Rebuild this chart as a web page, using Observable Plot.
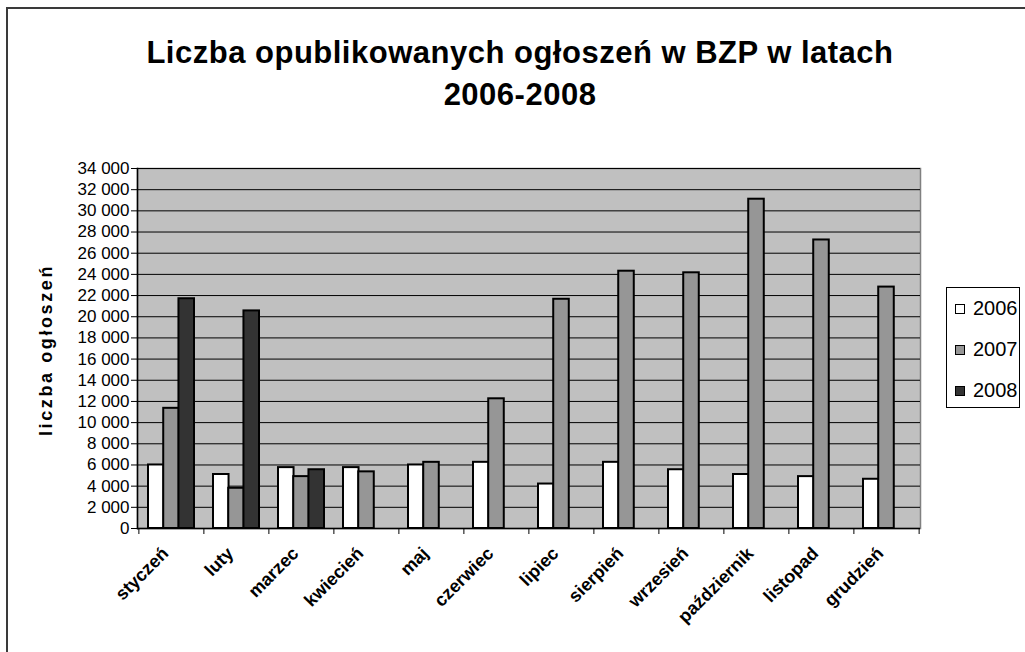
<!DOCTYPE html>
<html><head><meta charset="utf-8">
<script src="https://cdn.jsdelivr.net/npm/d3@7"></script>
<script src="https://cdn.jsdelivr.net/npm/@observablehq/plot@0.6"></script>
<style>
body{margin:0;background:#fff;}
#wrap{position:relative;width:1025px;height:652px;overflow:hidden;font-family:"Liberation Sans",Arial,sans-serif;color:#000;}
#wrap svg{position:absolute;left:0;top:0;}
#wrap svg g[aria-label="y-axis tick label"]{font-size:17px;}
#wrap svg g[aria-label="x-axis tick label"]{font-size:18px;font-weight:bold;}
#border{position:absolute;left:6px;top:7px;width:1040px;height:670px;border:2px solid #3a3a3a;box-sizing:border-box;}
#title{position:absolute;left:0;width:1040px;top:32px;text-align:center;font-weight:bold;font-size:31px;letter-spacing:0.5px;line-height:42px;}
#ylabel{position:absolute;left:-104px;top:338px;width:300px;height:24px;line-height:24px;text-align:center;font-weight:bold;font-size:18px;letter-spacing:2.6px;transform:rotate(-90deg);}
#legend{position:absolute;left:946px;top:287px;width:74px;height:121px;border:1px solid #000;box-sizing:border-box;background:#fff;}
.li{position:absolute;left:8px;height:24px;line-height:24px;font-size:20px;}
.sw{display:inline-block;width:8px;height:8px;border:1px solid #000;margin-right:8px;vertical-align:1px;}
</style></head>
<body><div id="wrap"><div id="border"></div><div id="title">Liczba opublikowanych ogłoszeń w BZP w latach<br>2006-2008</div><div id="ylabel">liczba ogłoszeń</div><div id="legend"></div></div>
<script>
const months = ["styczeń","luty","marzec","kwiecień","maj","czerwiec","lipiec","sierpień","wrzesień","październik","listopad","grudzień"];
const years = ["2006","2007","2008"];
const v2006 = [6000,5100,5750,5750,6000,6250,4200,6250,5550,5100,4900,4650];
const v2007 = [11350,3800,4900,5350,6250,12250,21650,24300,24150,31100,27250,22800];
const v2008 = [21700,20550,5550,null,null,null,null,null,null,null,null,null];
const colors = ["#ffffff","#969696","#333333"];
const yTicks = [0,2000,4000,6000,8000,10000,12000,14000,16000,18000,20000,22000,24000,26000,28000,30000,32000,34000];
const title = "Liczba opublikowanych ogłoszeń w BZP w latach 2006-2008";

const series = [v2006, v2007, v2008];
const data = [];
series.forEach((vals, i) => vals.forEach((v, j) => { if (v != null) data.push({month: months[j], year: years[i], value: v}); }));

const W = 1025, H = 652, mL = 137, mR = 105, mT = 168, mB = 124;
const step = (W - mL - mR) / months.length;
const bw = step * 0.7;
const slot = bw / years.length;
const fmt = d => d3.format(",")(d).replace(/,/g, "\u00a0");

const barMarks = years.map((yr, i) => Plot.barY(data.filter(d => d.year === yr), {
  x: "month", y: "value", fill: colors[i], stroke: "#000", strokeWidth: 2,
  insetLeft: slot * i, insetRight: slot * (years.length - 1 - i)
}));

const chart = Plot.plot({
  width: W, height: H, marginLeft: mL, marginRight: mR, marginTop: mT, marginBottom: mB,
  style: {background: "transparent", fontFamily: "'Liberation Sans', Arial, sans-serif", fontSize: "17px", color: "#000", overflow: "visible"},
  x: {domain: months, paddingInner: 0.3, paddingOuter: 0.15, label: null},
  y: {domain: [0, 34000], label: null},
  marks: [
    Plot.frame({fill: "#c0c0c0", stroke: "#808080", strokeWidth: 1.5}),
    Plot.gridY(yTicks, {stroke: "#000", strokeOpacity: 1, strokeWidth: 1}),
    ...barMarks,
    Plot.ruleY([0], {stroke: "#000", strokeWidth: 1.5}),
    Plot.frame({anchor: "left", stroke: "#000", strokeWidth: 1.5}),
    Plot.axisY(yTicks, {tickFormat: fmt, tickSize: 6, tickPadding: 2, fontSize: 17, label: null}),
    Plot.ruleX(months, {x: d => d, dx: -step / 2, y1: 0, y2: 0, insetBottom: -6, stroke: "#000"}),
    Plot.ruleX(months.slice(-1), {x: d => d, dx: step / 2, y1: 0, y2: 0, insetBottom: -6, stroke: "#000"}),
    Plot.axisX({tickSize: 0, tickRotate: -45, tickPadding: 22, fontSize: 18, fontWeight: "bold", label: null, dx: -6})
  ]
});
chart.setAttribute("aria-label", title);
document.getElementById("wrap").insertBefore(chart, document.getElementById("border"));

const legend = document.getElementById("legend");
years.forEach((yr, i) => {
  const row = document.createElement("div");
  row.className = "li";
  row.style.top = (8 + i * 41) + "px";
  row.innerHTML = `<span class="sw" style="background:${colors[i]}"></span>${yr}`;
  legend.appendChild(row);
});
</script></body></html>
